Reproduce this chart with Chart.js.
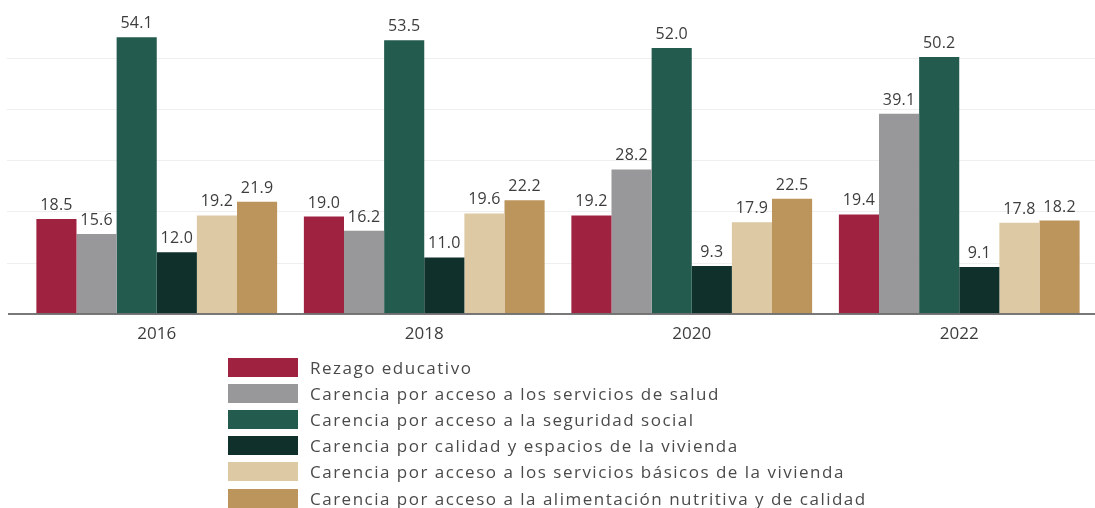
<!DOCTYPE html>
<html lang="es">
<head>
<meta charset="utf-8">
<script src="https://cdn.jsdelivr.net/npm/chart.js@4.4.1/dist/chart.umd.min.js"></script>
<style>
    html, body { margin: 0; padding: 0; background: #fff; }
    body { width: 1095px; height: 508px; position: relative; overflow: hidden; font-family: "Open Sans", sans-serif; }
    #wrap { position: absolute; left: 0; top: 0; width: 1095px; height: 358px; }
    #legend { position: absolute; left: 228px; top: 354px; margin: 0; padding: 0; list-style: none; }
    #legend li { display: flex; align-items: center; height: 26.2px; }
    #legend .sw { width: 70px; height: 19px; margin-right: 12px; flex: none; }
    #legend .tx { font-size: 17px; color: #4a4a4a; letter-spacing: 1.5px; white-space: nowrap; }
</style>
</head>
<body>
<div id="wrap"><canvas id="chart"></canvas></div>
<ul id="legend"></ul>
<script>
// Datos
const years = ['2016', '2018', '2020', '2022'];
const seriesNames = [
    'Rezago educativo',
    'Carencia por acceso a los servicios de salud',
    'Carencia por acceso a la seguridad social',
    'Carencia por calidad y espacios de la vivienda',
    'Carencia por acceso a los servicios básicos de la vivienda',
    'Carencia por acceso a la alimentación nutritiva y de calidad'
];
const rezagoEducativo = [18.5, 19.0, 19.2, 19.4];
const serviciosSalud = [15.6, 16.2, 28.2, 39.1];
const seguridadSocial = [54.1, 53.5, 52.0, 50.2];
const calidadVivienda = [12.0, 11.0, 9.3, 9.1];
const serviciosBasicos = [19.2, 19.6, 17.9, 17.8];
const alimentacion = [21.9, 22.2, 22.5, 18.2];
const gridValues = [10, 20, 30, 40, 50];

const seriesValues = [rezagoEducativo, serviciosSalud, seguridadSocial, calidadVivienda, serviciosBasicos, alimentacion];
const colors = ['#9F2241', '#98989A', '#235B4E', '#10312B', '#DDC9A3', '#BC955C'];

// Líneas guía y eje que van más allá del área del gráfico
const guidePlugin = {
    id: 'guides',
    beforeDatasetsDraw(chart) {
        const { ctx, scales: { y } } = chart;
        ctx.save();
        ctx.strokeStyle = '#efefef';
        ctx.lineWidth = 1;
        gridValues.forEach(v => {
            const py = Math.round(y.getPixelForValue(v)) + 0.5;
            ctx.beginPath(); ctx.moveTo(7, py); ctx.lineTo(chart.width, py); ctx.stroke();
        });
        ctx.restore();
    },
    afterDatasetsDraw(chart) {
        const { ctx, scales: { y } } = chart;
        const py = y.getPixelForValue(0) + 0.5;
        ctx.save();
        ctx.strokeStyle = '#4d4d4d';
        ctx.lineWidth = 1.5;
        ctx.beginPath(); ctx.moveTo(8, py); ctx.lineTo(chart.width, py); ctx.stroke();

        // Etiquetas de valor sobre cada barra
        ctx.font = '16px "Open Sans"';
        ctx.fillStyle = '#3d3d3d';
        ctx.textAlign = 'center';
        ctx.textBaseline = 'alphabetic';
        if ('letterSpacing' in ctx) ctx.letterSpacing = '0.2px';
        chart.data.datasets.forEach((ds, i) => {
            chart.getDatasetMeta(i).data.forEach((bar, j) => {
                ctx.fillText(ds.data[j].toFixed(1), bar.x, bar.y - 9);
            });
        });
        ctx.restore();
    }
};

const datasets = seriesNames.map((name, i) => ({
    label: name,
    data: seriesValues[i],
    backgroundColor: colors[i],
    borderWidth: 0,
    categoryPercentage: 0.9,
    barPercentage: 1.0
}));

new Chart(document.getElementById('chart'), {
    type: 'bar',
    data: { labels: years, datasets },
    options: {
        responsive: true,
        maintainAspectRatio: false,
        animation: false,
        layout: { padding: { left: 23, right: 2, top: 7, bottom: 4 } },
        scales: {
            x: {
                grid: { display: false, drawTicks: false },
                border: { display: false },
                ticks: { color: '#3d3d3d', padding: 10, font: { family: 'Open Sans', size: 17 } }
            },
            y: {
                display: false,
                min: 0,
                max: 60
            }
        },
        plugins: {
            legend: { display: false },
            tooltip: { enabled: false }
        }
    },
    plugins: [guidePlugin]
});

// Leyenda vertical debajo del gráfico
const legend = document.getElementById('legend');
seriesNames.forEach((name, i) => {
    const li = document.createElement('li');
    li.innerHTML = `<span class="sw" style="background:${colors[i]}"></span><span class="tx">${name}</span>`;
    legend.appendChild(li);
});
</script>
</body>
</html>
